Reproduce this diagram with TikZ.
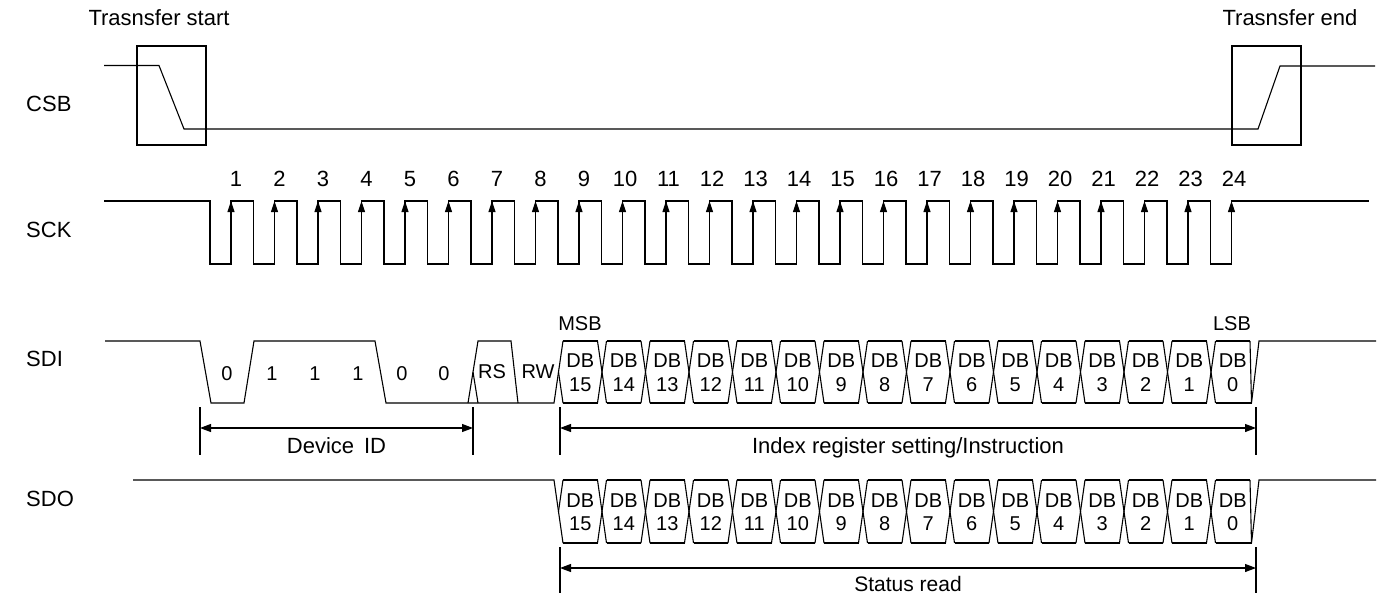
\documentclass[tikz,border=0pt]{standalone}
\usepackage{fontspec}
\setmainfont{Liberation Sans}
\usetikzlibrary{arrows.meta}
\begin{document}
\begin{tikzpicture}[x=1pt,y=-1pt,
  wave/.style={line width=1.1pt, line join=miter},
  boxl/.style={line width=1.3pt},
  lbl/.style={font=\fontsize{22}{26}\selectfont, inner sep=0pt, anchor=base},
  sig/.style={font=\fontsize{22}{26}\selectfont, inner sep=0pt, anchor=base west},
  small/.style={font=\fontsize{20}{24}\selectfont, inner sep=0pt, anchor=base},
  dim/.style={line width=1.1pt, {Triangle[length=11pt,width=8pt]}-{Triangle[length=11pt,width=8pt]}},
  edgearrow/.style={line width=1.1pt, -{Triangle[length=11pt,width=7pt]}},
]
\useasboundingbox (0,0) rectangle (1385,598);

% signal names
\node[sig] (lcsb) at (26,111) {CSB};
\node[sig] (lsck) at (26,237) {SCK};
\node[sig] (lsdi) at (26,366) {SDI};
\node[sig] (lsdo) at (26,506) {SDO};

% transfer start / end
\node[lbl] (tstart) at (159,25) {Trasnsfer start};
\node[lbl] (tend) at (1290,25) {Trasnsfer end};
\draw[boxl] (137,46) rectangle (206,145);
\draw[boxl] (1232,46) rectangle (1301,145);

% CSB
\draw[wave] (104,65.5) -- (159,65.5) -- (184,129) -- (1258,129) -- (1280,66) -- (1375,66);

% SCK
\draw[wave] (104,201) -- (210,201) -- (210,264) -- (231,264) -- (231,201)
  \foreach \k in {2,...,24} { -- ({231+43.5*(\k-1)-21},201) -- ({231+43.5*(\k-1)-21},264) -- ({231+43.5*(\k-1)},264) -- ({231+43.5*(\k-1)},201) } -- (1369,201);
\foreach \k in {1,...,24} {
  \draw[edgearrow] ({231+43.5*(\k-1)},232) -- ({231+43.5*(\k-1)},201);
}
\foreach \k in {1,...,9} { \node[lbl] (n\k) at ({231+43.5*(\k-1)+5},186) {\k}; }
\foreach \k in {10,...,24} { \node[lbl] (n\k) at ({231+43.5*(\k-1)+2.5},186) {\k}; }

% SDI
\draw[wave] (105,341) -- (200,341) -- (211,403) -- (244,403) -- (254,341) -- (375,341) -- (386,403) -- (554,403) -- (563,341);
\draw[wave] (468,403) -- (478,341) -- (511,341) -- (518,403);
\draw[wave] (473,372) -- (478,403);
\draw[wave] (558.5,372) -- (563,403);
\foreach \j in {0,...,15} {
  \draw[wave] ({558.5+43.5*\j+4.5},341) -- ({558.5+43.5*(\j+1)-4.5},341);
  \draw[wave] ({558.5+43.5*\j+4.5},403) -- ({558.5+43.5*(\j+1)-4.5},403);
}
\foreach \j in {1,...,15} {
  \draw[wave] ({558.5+43.5*\j-4.5},341) -- ({558.5+43.5*\j+4.5},403);
  \draw[wave] ({558.5+43.5*\j-4.5},403) -- ({558.5+43.5*\j+4.5},341);
}
\draw[wave] (1250,341) -- (1251.5,403) -- (1259,341) -- (1376,341);
\draw[wave] (1250,403) -- (1251.5,403);

% SDI bit labels
\node[small] (b1) at (227,380) {0};
\node[small] (b2) at (272,380) {1};
\node[small] (b3) at (315,380) {1};
\node[small] (b4) at (358,380) {1};
\node[small] (b5) at (402,380) {0};
\node[small] (b6) at (444,380) {0};
\node[small] (rs) at (492,378) {RS};
\node[small] (rw) at (538,378) {RW};
\node[small] (msb) at (580,330) {MSB};
\node[small] (lsb) at (1232,330) {LSB};
\foreach \j in {0,...,15} {
  \pgfmathtruncatemacro\b{15-\j}
  \node[small] (ia\j) at ({558.5+43.5*\j+21.75},367) {DB};
  \node[small] (ib\j) at ({558.5+43.5*\j+21.75},391) {\b};
}

% SDO
\draw[wave] (133,480) -- (554,480) -- (563,543);
\draw[wave] (558.5,511.5) -- (563,480);
\foreach \j in {0,...,15} {
  \draw[wave] ({558.5+43.5*\j+4.5},480) -- ({558.5+43.5*(\j+1)-4.5},480);
  \draw[wave] ({558.5+43.5*\j+4.5},543) -- ({558.5+43.5*(\j+1)-4.5},543);
}
\foreach \j in {1,...,15} {
  \draw[wave] ({558.5+43.5*\j-4.5},480) -- ({558.5+43.5*\j+4.5},543);
  \draw[wave] ({558.5+43.5*\j-4.5},543) -- ({558.5+43.5*\j+4.5},480);
}
\draw[wave] (1250,480) -- (1251.5,543) -- (1259,480) -- (1376,480);
\draw[wave] (1250,543) -- (1251.5,543);
\foreach \j in {0,...,15} {
  \pgfmathtruncatemacro\b{15-\j}
  \node[small] (oa\j) at ({558.5+43.5*\j+21.75},507) {DB};
  \node[small] (ob\j) at ({558.5+43.5*\j+21.75},530) {\b};
}

% dimension lines
\coordinate (d1a) at (200,428); \coordinate (d1b) at (473,428);
\coordinate (d2a) at (560,428); \coordinate (d2b) at (1256,428);
\coordinate (d3a) at (560,568); \coordinate (d3b) at (1256,568);
\draw[wave] (200,407) -- (200,455);
\draw[wave] (473,407) -- (473,455);
\draw[wave] (560,407) -- (560,455);
\draw[wave] (1256,407) -- (1256,455);
\draw[wave] (560,547) -- (560,593);
\draw[wave] (1256,547) -- (1256,593);
\draw[dim] (d1a) -- (d1b);
\draw[dim] (d2a) -- (d2b);
\draw[dim] (d3a) -- (d3b);
\node[lbl] (devid) at (336.5,453) {Device\hspace{0.45em}ID};
\node[lbl] (idx) at (908,453) {Index register setting/Instruction};
\node[small,font=\fontsize{21}{25}\selectfont] (stat) at (908,591) {Status read};
\end{tikzpicture}
\end{document}
